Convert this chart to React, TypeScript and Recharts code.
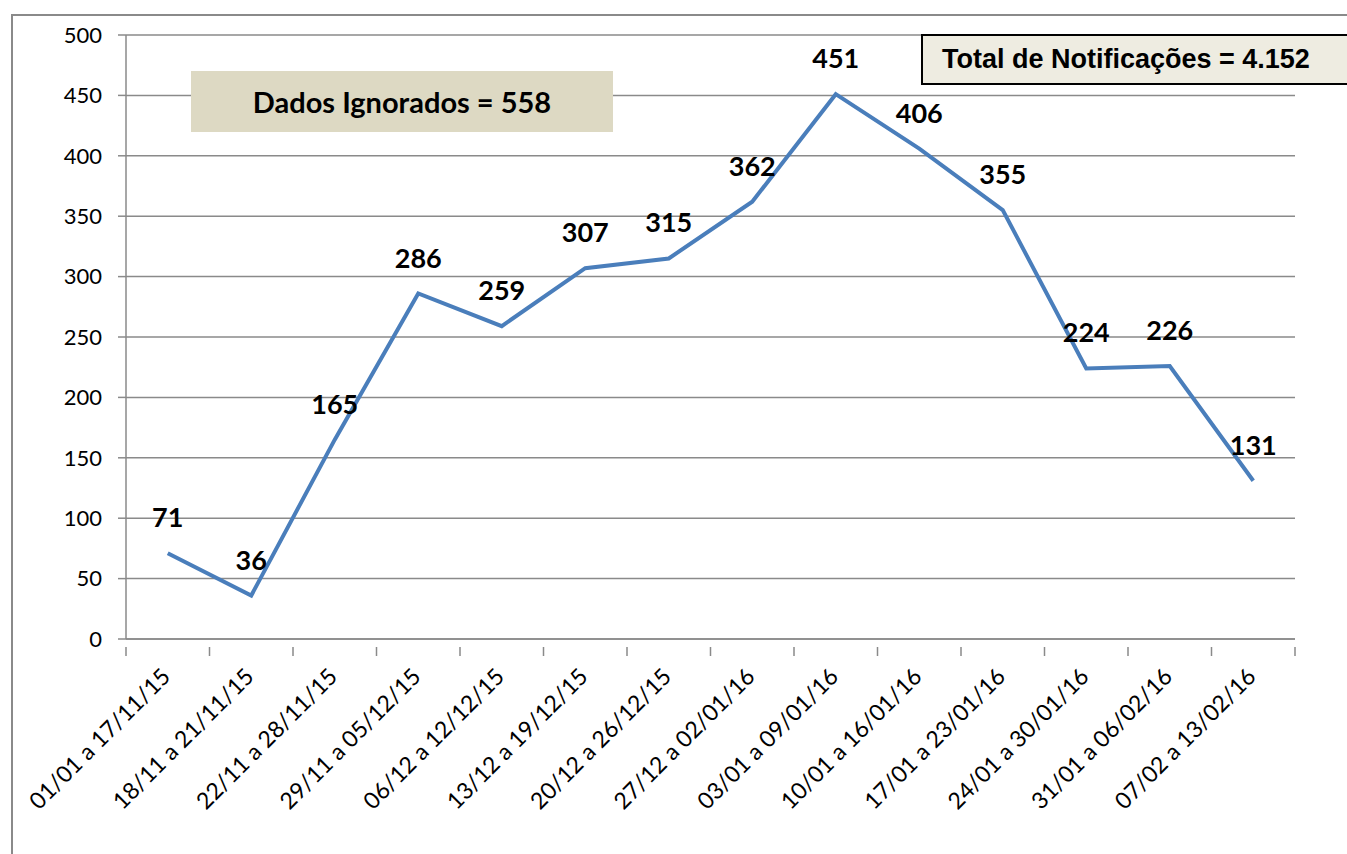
import React from 'react';
import { LineChart, Line, XAxis, YAxis, CartesianGrid, LabelList } from 'recharts';

const weeks = [
  '01/01 a 17/11/15',
  '18/11 a 21/11/15',
  '22/11 a 28/11/15',
  '29/11 a 05/12/15',
  '06/12 a 12/12/15',
  '13/12 a 19/12/15',
  '20/12 a 26/12/15',
  '27/12 a 02/01/16',
  '03/01 a 09/01/16',
  '10/01 a 16/01/16',
  '17/01 a 23/01/16',
  '24/01 a 30/01/16',
  '31/01 a 06/02/16',
  '07/02 a 13/02/16',
];
const notificacoes = [71, 36, 165, 286, 259, 307, 315, 362, 451, 406, 355, 224, 226, 131];
const yTicks = [0, 50, 100, 150, 200, 250, 300, 350, 400, 450, 500];

const data = weeks.map((w, i) => ({ semana: w, valor: notificacoes[i] }));

const FONT = 'Lato, "Open Sans", sans-serif';
const AXIS_GRAY = '#8a8a8a';
const BAND = (1295 - 126) / weeks.length;

const XTick = (props: any) => {
  const { x, y, payload, index } = props;
  const left = x - BAND / 2;
  return (
    <g>
      <line x1={left} y1={y} x2={left} y2={y + 9} stroke={AXIS_GRAY} strokeWidth={1.5} />
      {index === weeks.length - 1 && (
        <line x1={x + BAND / 2} y1={y} x2={x + BAND / 2} y2={y + 9} stroke={AXIS_GRAY} strokeWidth={1.5} />
      )}
      <text
        transform={`translate(${x + 4},${y + 31}) rotate(-45)`}
        textAnchor="end"
        fontSize={23}
        fontFamily={FONT}
        fill="#000"
      >
        {payload.value}
      </text>
    </g>
  );
};

const App: React.FC = () => {
  return (
    <div style={{ position: 'absolute', left: 0, top: 0, width: 1347, height: 854, overflow: 'hidden', background: '#fff' }}>
      <div
        style={{
          position: 'absolute',
          left: 11,
          top: 14,
          width: 1400,
          height: 900,
          border: `2px solid ${AXIS_GRAY}`,
          boxSizing: 'border-box',
        }}
      />
      <LineChart
        width={1347}
        height={854}
        data={data}
        margin={{ top: 35, right: 52, bottom: 0, left: 0 }}
        style={{ position: 'absolute', left: 0, top: 0 }}
      >
        <CartesianGrid vertical={false} stroke={AXIS_GRAY} strokeWidth={1.5} />
        <XAxis
          dataKey="semana"
          scale="band"
          height={215}
          interval={0}
          tickLine={false}
          axisLine={{ stroke: AXIS_GRAY, strokeWidth: 1.5 }}
          tick={<XTick />}
        />
        <YAxis
          width={126}
          domain={[0, 500]}
          ticks={yTicks}
          interval={0}
          tickSize={8}
          tickMargin={16}
          tickLine={{ stroke: AXIS_GRAY, strokeWidth: 1.5 }}
          axisLine={{ stroke: AXIS_GRAY, strokeWidth: 1.5 }}
          tick={{ fontSize: 22, fontFamily: FONT, fill: '#000' }}
        />
        <Line
          type="linear"
          dataKey="valor"
          stroke="#4a7ebb"
          strokeWidth={4}
          dot={false}
          isAnimationActive={false}
        >
          <LabelList
            dataKey="valor"
            position="top"
            offset={26}
            fontSize={27}
            fontWeight="bold"
            fontFamily={FONT}
            fill="#000"
          />
        </Line>
      </LineChart>
      <div
        style={{
          position: 'absolute',
          left: 191,
          top: 71,
          width: 422,
          height: 61,
          background: '#ddd9c3',
          display: 'flex',
          alignItems: 'center',
          justifyContent: 'center',
          fontFamily: FONT,
          fontWeight: 'bold',
          fontSize: 29,
          color: '#000',
        }}
      >
        Dados Ignorados = 558
      </div>
      <div
        style={{
          position: 'absolute',
          left: 921,
          top: 34,
          width: 460,
          height: 51,
          background: '#eeece1',
          border: '2px solid #000',
          boxSizing: 'border-box',
          display: 'flex',
          alignItems: 'center',
          paddingLeft: 19,
          fontFamily: '"Liberation Sans", Arial, sans-serif',
          fontWeight: 'bold',
          fontSize: 27,
          color: '#000',
        }}
      >
        Total de Notificações = 4.152
      </div>
    </div>
  );
};

export default App;
